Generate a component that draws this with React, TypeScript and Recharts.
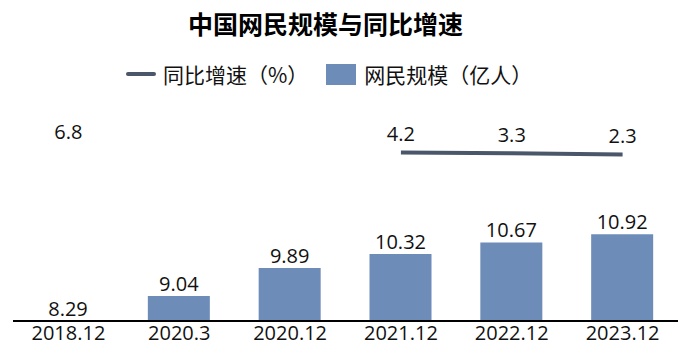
import { ComposedChart, Bar, Line, XAxis, YAxis, LabelList } from "recharts";

const categories = ["2018.12", "2020.3", "2020.12", "2021.12", "2022.12", "2023.12"];
const users = [8.29, 9.04, 9.89, 10.32, 10.67, 10.92];
const growth: (number | null)[] = [6.8, null, null, 4.2, 3.3, 2.3];

const data = categories.map((period, i) => ({ period, users: users[i], growth: growth[i] }));

const CJK = '"Noto Sans CJK SC", "Noto Sans", sans-serif';
const NUM = '"Open Sans", "Noto Sans CJK SC", sans-serif';
const BAR = "#6d8cb8";
const LINE = "#4a5669";
const LINE_NAME = "同比增速（%）";
const BAR_NAME = "网民规模（亿人）";

function ChartLegend() {
  return (
    <div
      style={{
        position: "absolute",
        left: 126,
        top: 60,
        display: "flex",
        alignItems: "center",
        fontFamily: CJK,
        fontSize: 21,
        lineHeight: "28px",
        color: "#111",
      }}
    >
      <span style={{ width: 30, height: 4, borderRadius: 2, background: LINE, marginRight: 7 }} />
      <span style={{ marginRight: 18 }}>{LINE_NAME}</span>
      <span style={{ width: 30, height: 21, background: BAR, marginRight: 8 }} />
      <span>{BAR_NAME}</span>
    </div>
  );
}

export default function App() {
  return (
    <div style={{ position: "absolute", left: 0, top: 0, width: 692, height: 364, background: "#fff" }}>
      <div
        style={{
          position: "absolute",
          left: 0,
          top: 6,
          width: 651,
          textAlign: "center",
          fontFamily: CJK,
          fontWeight: 700,
          fontSize: 25,
          lineHeight: "34px",
          color: "#000",
        }}
      >
        中国网民规模与同比增速
      </div>
      <ChartLegend />
      <ComposedChart width={692} height={364} data={data} margin={{ top: 100, right: 14, bottom: 13, left: 13 }}>
        <XAxis
          dataKey="period"
          height={30}
          tickSize={0}
          tickMargin={5}
          tickLine={false}
          axisLine={{ stroke: "#000", strokeWidth: 2 }}
          tick={{ fill: "#111", fontSize: 20, fontFamily: NUM }}
        />
        <YAxis yAxisId="users" hide domain={[8.28, 15]} allowDataOverflow />
        <YAxis yAxisId="growth" hide orientation="right" domain={[-156, 54]} allowDataOverflow />
        <Bar yAxisId="users" dataKey="users" name={BAR_NAME} fill={BAR} barSize={62} isAnimationActive={false}>
          <LabelList dataKey="users" position="top" offset={5} fill="#111" fontSize={20} fontFamily={NUM} />
        </Bar>
        <Line
          yAxisId="growth"
          dataKey="growth"
          name={LINE_NAME}
          type="linear"
          stroke={LINE}
          strokeWidth={4}
          strokeLinecap="butt"
          dot={false}
          activeDot={false}
          isAnimationActive={false}
        >
          <LabelList dataKey="growth" position="top" offset={11} fill="#111" fontSize={20} fontFamily={NUM} />
        </Line>
      </ComposedChart>
    </div>
  );
}
